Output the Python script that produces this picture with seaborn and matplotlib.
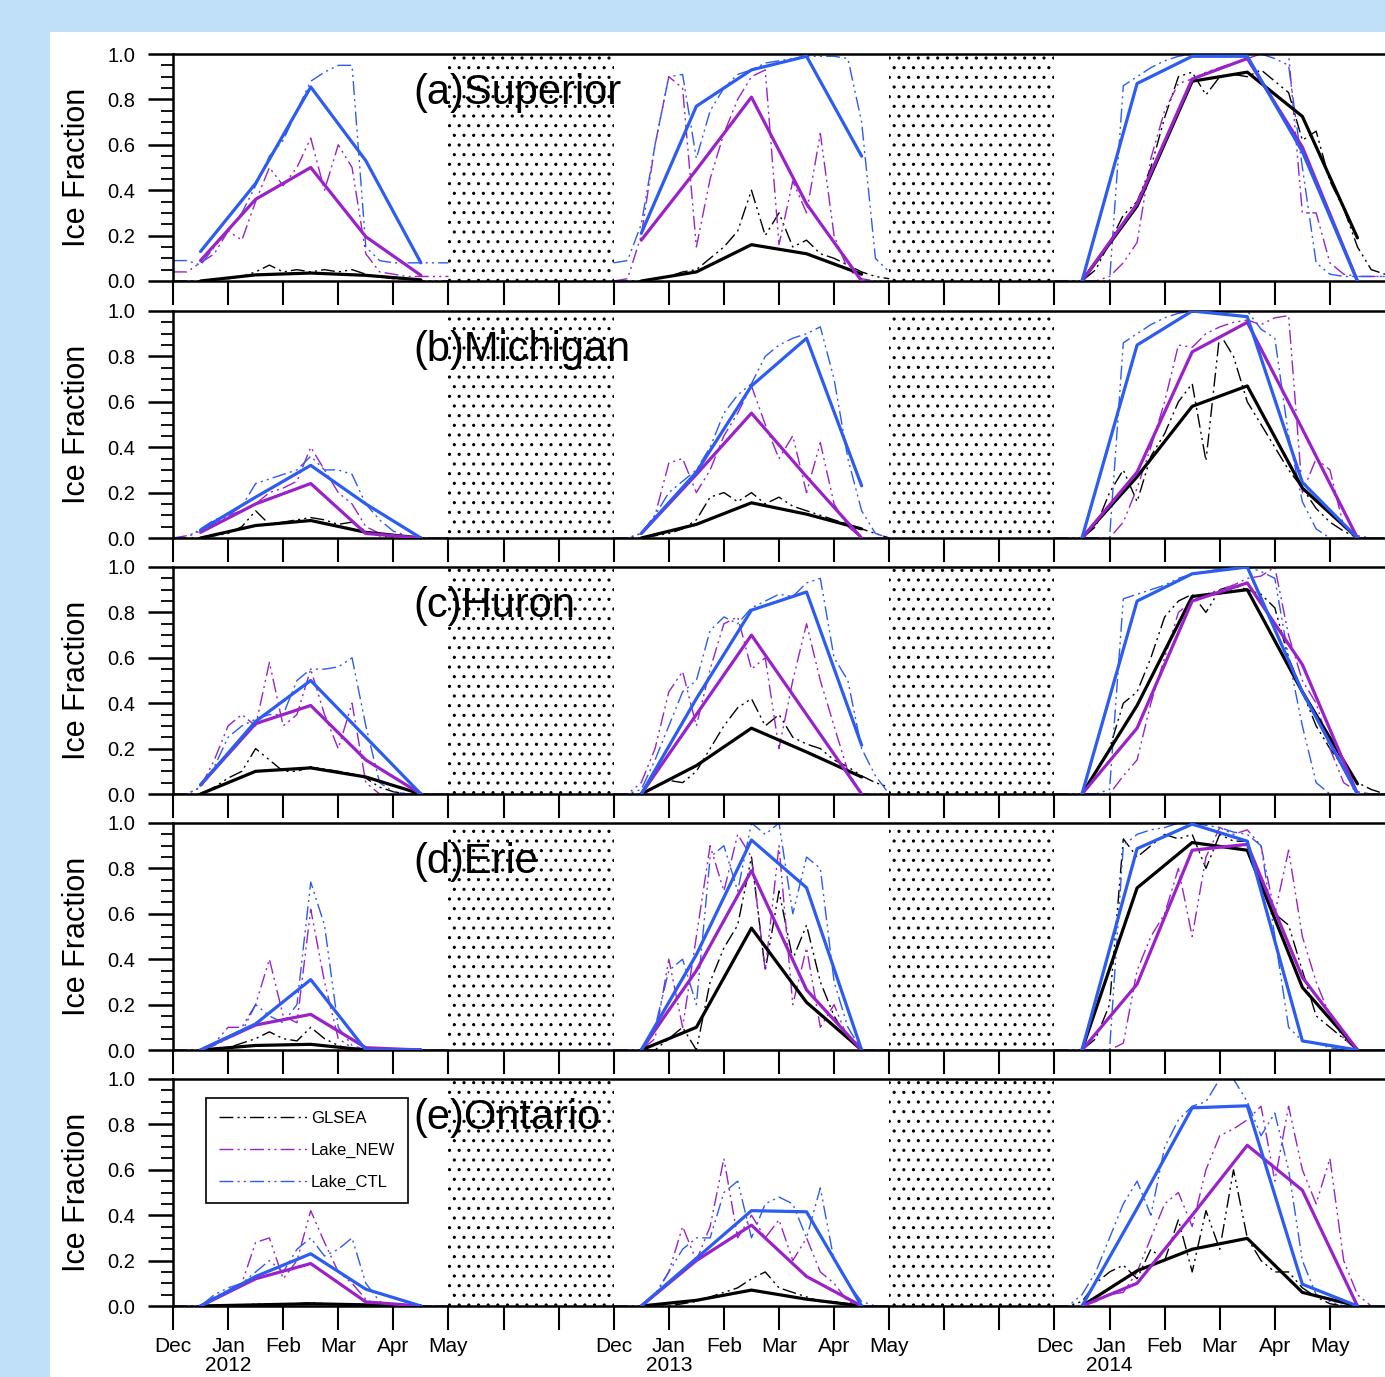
import numpy as np
import pandas as pd
import matplotlib
matplotlib.use("Agg")
import matplotlib.pyplot as plt
import seaborn as sns
from matplotlib.lines import Line2D
from matplotlib.patches import Rectangle
from matplotlib.ticker import MultipleLocator

# ---------------- data ----------------
LAKE_TITLES = ["(a)Superior", "(b)Michigan", "(c)Huron", "(d)Erie", "(e)Ontario"]
SERIES = ["GLSEA", "Lake_NEW", "Lake_CTL"]
WINTER_OFFSETS = [0, 8, 16]          # Dec-2011, Dec-2012, Dec-2013 on the compressed month axis
DAILY_STEP = 0.25                    # sampling of the daily curves (fraction of a month)
GAP_SPANS = [(5, 8), (13, 16)]       # summer gaps (dotted)
TICK_LABELS = ["Dec", "Jan\n2012", "Feb", "Mar", "Apr", "May", "", "",
               "Dec", "Jan\n2013", "Feb", "Mar", "Apr", "May", "", "",
               "Dec", "Jan\n2014", "Feb", "Mar", "Apr", "May"]

# monthly means (mid-month points)
SUP_GLSEA_M = [[0.0, 0.027, 0.035, 0.025, 0.005], [0.0, 0.04, 0.16, 0.12, 0.03], [0.0, 0.33, 0.88, 0.92, 0.725, 0.19]]
SUP_NEW_M = [[0.09, 0.36, 0.50, 0.195, 0.025], [0.18, 0.49, 0.81, 0.34, 0.0], [0.0, 0.34, 0.89, 0.98, 0.59, 0.0]]
SUP_CTL_M = [[0.13, 0.43, 0.855, 0.53, 0.08], [0.21, 0.77, 0.93, 0.99, 0.55], [0.0, 0.87, 0.99, 0.99, 0.57, 0.0]]

MIC_GLSEA_M = [[0.0, 0.055, 0.077, 0.025, 0.0], [0.0, 0.06, 0.155, 0.105, 0.04], [0.0, 0.27, 0.58, 0.67, 0.22, 0.0]]
MIC_NEW_M = [[0.025, 0.15, 0.24, 0.02, 0.0], [0.02, 0.28, 0.55, 0.27, 0.0], [0.0, 0.29, 0.82, 0.95, 0.48, 0.0]]
MIC_CTL_M = [[0.035, 0.18, 0.32, 0.15, 0.0], [0.02, 0.29, 0.67, 0.88, 0.23], [0.0, 0.85, 1.0, 0.975, 0.245, 0.0]]

HUR_GLSEA_M = [[0.0, 0.1, 0.115, 0.075, 0.0], [0.0, 0.125, 0.29, 0.185, 0.075], [0.0, 0.39, 0.87, 0.9, 0.45, 0.045]]
HUR_NEW_M = [[0.04, 0.31, 0.39, 0.15, 0.0], [0.0, 0.35, 0.70, 0.35, 0.0], [0.0, 0.29, 0.85, 0.93, 0.57, 0.0]]
HUR_CTL_M = [[0.04, 0.32, 0.50, 0.25, 0.0], [0.0, 0.42, 0.81, 0.89, 0.215], [0.0, 0.85, 0.97, 1.0, 0.45, 0.0]]

ERI_GLSEA_M = [[0.0, 0.02, 0.025, 0.0, 0.0], [0.0, 0.1, 0.537, 0.21, 0.0], [0.0, 0.714, 0.914, 0.88, 0.276, 0.0]]
ERI_NEW_M = [[0.0, 0.11, 0.157, 0.01, 0.0], [0.0, 0.35, 0.79, 0.265, 0.0], [0.0, 0.29, 0.88, 0.906, 0.32, 0.0]]
ERI_CTL_M = [[0.0, 0.115, 0.31, 0.0, 0.0], [0.0, 0.42, 0.925, 0.715, 0.0], [0.0, 0.887, 0.995, 0.92, 0.04, 0.0]]

ONT_GLSEA_M = [[0.0, 0.005, 0.01, 0.005, 0.0], [0.0, 0.025, 0.07, 0.03, 0.0], [0.0, 0.155, 0.25, 0.298, 0.06, 0.0]]
ONT_NEW_M = [[0.0, 0.12, 0.187, 0.018, 0.0], [0.0, 0.2, 0.356, 0.13, 0.0], [0.0, 0.1, 0.40, 0.708, 0.51, 0.0]]
ONT_CTL_M = [[0.0, 0.13, 0.23, 0.074, 0.0], [0.0, 0.21, 0.42, 0.415, 0.0], [0.0, 0.43, 0.873, 0.882, 0.096, 0.0]]

# daily curves (read every quarter month)
SUP_GLSEA_D = [[0, 0, 0, 0.005, 0.01, 0.02, 0.04, 0.07, 0.04, 0.05, 0.04, 0.05, 0.04, 0.05, 0.03, 0.02, 0.01, 0.01, 0, 0, 0],
               [0, 0, 0, 0.01, 0.02, 0.04, 0.05, 0.1, 0.15, 0.22, 0.4, 0.2, 0.3, 0.15, 0.18, 0.12, 0.1, 0.07, 0.04, 0.02, 0.01],
               [0, 0, 0, 0.05, 0.17, 0.29, 0.35, 0.5, 0.72, 0.9, 0.92, 0.82, 0.9, 0.91, 0.9, 0.93, 0.88, 0.83, 0.62, 0.66, 0.44, 0.32, 0.15, 0.05, 0.03]]
SUP_NEW_D = [[0.04, 0.04, 0.08, 0.12, 0.22, 0.18, 0.35, 0.5, 0.42, 0.5, 0.63, 0.4, 0.6, 0.5, 0.12, 0.04, 0.03, 0.02, 0.02, 0.02, 0.02],
             [0, 0.01, 0.2, 0.6, 0.9, 0.85, 0.15, 0.45, 0.65, 0.8, 0.9, 0.93, 0.16, 0.44, 0.3, 0.65, 0.2, 0.05, 0.01, 0, 0],
             [0, 0, 0, 0, 0.02, 0.08, 0.17, 0.54, 0.75, 0.87, 0.89, 0.92, 0.94, 0.96, 0.98, 1.0, 1.0, 1.0, 0.3, 0.3, 0.08, 0.03, 0.02, 0.02, 0.02]]
SUP_CTL_D = [[0.09, 0.09, 0.07, 0.15, 0.22, 0.3, 0.42, 0.55, 0.62, 0.75, 0.88, 0.92, 0.95, 0.95, 0.15, 0.09, 0.08, 0.08, 0.08, 0.08, 0.08],
             [0.08, 0.09, 0.25, 0.6, 0.9, 0.91, 0.54, 0.75, 0.85, 0.91, 0.93, 0.96, 0.97, 0.98, 0.99, 0.99, 0.99, 0.98, 0.7, 0.1, 0.04],
             [0, 0, 0, 0, 0, 0.86, 0.9, 0.94, 0.97, 0.99, 1.0, 1.0, 1.0, 1.0, 1.0, 1.0, 0.98, 0.95, 0.5, 0.08, 0.03, 0.02, 0.02, 0.02, 0.02]]

MIC_GLSEA_D = [[0, 0, 0, 0.01, 0.02, 0.05, 0.12, 0.06, 0.07, 0.08, 0.09, 0.08, 0.06, 0.07, 0.03, 0.01, 0, 0, 0, 0, 0],
               [0, 0, 0, 0.01, 0.02, 0.04, 0.08, 0.18, 0.2, 0.16, 0.2, 0.15, 0.18, 0.14, 0.12, 0.1, 0.08, 0.06, 0.04, 0.02, 0],
               [0, 0, 0, 0.05, 0.2, 0.3, 0.16, 0.36, 0.46, 0.6, 0.68, 0.34, 0.9, 0.8, 0.6, 0.5, 0.4, 0.3, 0.22, 0.13, 0.07, 0.03, 0, 0, 0]]
MIC_NEW_D = [[0, 0.01, 0.03, 0.06, 0.1, 0.12, 0.15, 0.2, 0.22, 0.25, 0.4, 0.3, 0.2, 0.15, 0.05, 0.02, 0, 0, 0, 0, 0],
             [0, 0, 0.02, 0.1, 0.33, 0.35, 0.2, 0.3, 0.45, 0.55, 0.67, 0.5, 0.35, 0.45, 0.2, 0.42, 0.15, 0.05, 0, 0, 0],
             [0, 0, 0, 0, 0, 0.07, 0.22, 0.4, 0.6, 0.85, 0.84, 0.9, 0.93, 0.95, 0.96, 0.94, 0.97, 0.98, 0.2, 0.35, 0.3, 0.05, 0.01, 0, 0]]
MIC_CTL_D = [[0, 0, 0.04, 0.08, 0.1, 0.14, 0.24, 0.26, 0.28, 0.3, 0.36, 0.3, 0.3, 0.28, 0.15, 0.08, 0.03, 0.01, 0, 0, 0],
             [0, 0, 0.02, 0.1, 0.2, 0.25, 0.3, 0.4, 0.55, 0.63, 0.68, 0.8, 0.85, 0.88, 0.9, 0.93, 0.7, 0.35, 0.12, 0.02, 0],
             [0, 0, 0, 0, 0, 0.86, 0.9, 0.94, 0.97, 0.99, 1.0, 1.0, 1.0, 1.0, 1.0, 0.92, 0.88, 0.45, 0.16, 0.04, 0, 0, 0, 0, 0]]

HUR_GLSEA_D = [[0, 0, 0, 0.03, 0.07, 0.1, 0.2, 0.15, 0.1, 0.1, 0.12, 0.11, 0.1, 0.09, 0.07, 0.03, 0.01, 0, 0, 0, 0],
               [0, 0, 0, 0.03, 0.06, 0.05, 0.1, 0.2, 0.3, 0.38, 0.42, 0.3, 0.35, 0.25, 0.22, 0.2, 0.15, 0.12, 0.08, 0.05, 0.03],
               [0, 0, 0, 0.1, 0.2, 0.4, 0.45, 0.6, 0.78, 0.85, 0.88, 0.8, 0.9, 0.92, 0.9, 0.88, 0.82, 0.6, 0.45, 0.3, 0.2, 0.12, 0.05, 0.02, 0]]
HUR_NEW_D = [[0, 0, 0.03, 0.15, 0.3, 0.35, 0.3, 0.58, 0.3, 0.35, 0.55, 0.35, 0.2, 0.4, 0.05, 0, 0, 0, 0, 0, 0],
             [0, 0, 0.05, 0.2, 0.45, 0.54, 0.3, 0.55, 0.75, 0.78, 0.55, 0.6, 0.2, 0.5, 0.75, 0.5, 0.3, 0.1, 0, 0, 0],
             [0, 0, 0, 0, 0, 0.08, 0.15, 0.4, 0.6, 0.8, 0.85, 0.88, 0.9, 0.92, 0.95, 0.96, 1.0, 0.7, 0.5, 0.4, 0.2, 0.05, 0.01, 0, 0]]
HUR_CTL_D = [[0, 0, 0.03, 0.12, 0.25, 0.3, 0.33, 0.35, 0.35, 0.5, 0.55, 0.55, 0.56, 0.6, 0.3, 0.05, 0.01, 0, 0, 0, 0],
             [0, 0, 0.02, 0.15, 0.3, 0.45, 0.5, 0.72, 0.78, 0.75, 0.82, 0.85, 0.88, 0.87, 0.93, 0.95, 0.6, 0.5, 0.2, 0.08, 0],
             [0, 0, 0, 0, 0.02, 0.86, 0.88, 0.9, 0.92, 0.95, 0.97, 0.98, 0.99, 1.0, 1.0, 0.98, 0.95, 0.6, 0.3, 0.05, 0, 0, 0, 0, 0]]

ERI_GLSEA_D = [[0, 0, 0, 0, 0.01, 0.03, 0.05, 0.08, 0.05, 0.04, 0.1, 0.05, 0.02, 0, 0, 0, 0, 0, 0, 0, 0],
               [0, 0, 0, 0, 0.05, 0.1, 0, 0.3, 0.45, 0.55, 0.85, 0.35, 0.7, 0.4, 0.55, 0.3, 0.15, 0.05, 0, 0, 0],
               [0, 0, 0, 0.05, 0.2, 0.93, 0.85, 0.9, 0.95, 0.93, 0.95, 0.8, 0.95, 0.92, 0.92, 0.75, 0.6, 0.55, 0.35, 0.15, 0.1, 0.05, 0, 0, 0]]
ERI_NEW_D = [[0, 0, 0, 0.03, 0.1, 0.1, 0.2, 0.4, 0.15, 0.12, 0.62, 0.3, 0.05, 0.01, 0, 0, 0, 0, 0, 0, 0],
             [0, 0, 0, 0.05, 0.4, 0.1, 0.5, 0.9, 0.7, 0.95, 0.85, 0.35, 0.9, 0.2, 0.45, 0.1, 0.2, 0.05, 0, 0, 0],
             [0, 0, 0, 0, 0, 0.03, 0.35, 0.5, 0.6, 0.8, 0.5, 0.85, 0.98, 0.95, 0.97, 0.9, 0.6, 0.88, 0.5, 0.3, 0.15, 0.05, 0, 0, 0]]
ERI_CTL_D = [[0, 0, 0, 0.02, 0.05, 0.08, 0.2, 0.15, 0.12, 0.2, 0.74, 0.55, 0.1, 0.02, 0, 0, 0, 0, 0, 0, 0],
             [0, 0, 0, 0.1, 0.35, 0.4, 0.2, 0.85, 0.9, 0.7, 1.0, 0.95, 1.0, 0.6, 0.85, 0.8, 0.3, 0.1, 0, 0, 0],
             [0, 0, 0, 0, 0, 0.9, 0.95, 0.97, 0.98, 1.0, 1.0, 0.99, 0.98, 0.96, 0.95, 0.9, 0.5, 0.1, 0.04, 0.03, 0.01, 0, 0, 0, 0]]

ONT_GLSEA_D = [[0, 0, 0, 0.003, 0.005, 0.005, 0.008, 0.01, 0.008, 0.01, 0.015, 0.01, 0.008, 0.01, 0.005, 0.003, 0, 0, 0, 0, 0],
               [0, 0, 0, 0, 0, 0.01, 0.02, 0.04, 0.06, 0.08, 0.12, 0.15, 0.08, 0.06, 0.04, 0.02, 0.02, 0.01, 0, 0, 0],
               [0, 0, 0.02, 0.1, 0.15, 0.18, 0.12, 0.25, 0.2, 0.38, 0.15, 0.42, 0.25, 0.6, 0.3, 0.2, 0.15, 0.15, 0.08, 0.04, 0.01, 0, 0, 0, 0]]
ONT_NEW_D = [[0, 0, 0, 0.04, 0.07, 0.1, 0.28, 0.3, 0.12, 0.2, 0.42, 0.28, 0.15, 0.1, 0.03, 0, 0, 0, 0, 0, 0],
             [0, 0, 0, 0.05, 0.15, 0.35, 0.2, 0.35, 0.65, 0.3, 0.4, 0.3, 0.38, 0.2, 0.3, 0.15, 0.1, 0.02, 0, 0, 0],
             [0, 0, 0, 0.02, 0.05, 0.06, 0.15, 0.3, 0.45, 0.5, 0.35, 0.6, 0.75, 0.78, 0.82, 0.88, 0.55, 0.88, 0.6, 0.45, 0.65, 0.2, 0.05, 0, 0]]
ONT_CTL_D = [[0, 0, 0, 0.05, 0.08, 0.1, 0.15, 0.2, 0.15, 0.25, 0.3, 0.22, 0.25, 0.3, 0.1, 0.02, 0, 0, 0, 0, 0],
             [0, 0, 0, 0.05, 0.15, 0.25, 0.3, 0.3, 0.5, 0.55, 0.3, 0.45, 0.48, 0.45, 0.3, 0.52, 0.2, 0.1, 0.02, 0, 0],
             [0, 0, 0.05, 0.15, 0.3, 0.45, 0.55, 0.4, 0.7, 0.82, 0.88, 0.9, 1.0, 1.0, 0.9, 0.75, 0.85, 0.6, 0.2, 0.05, 0.02, 0, 0, 0, 0]]

DAILY = {
    0: {"GLSEA": SUP_GLSEA_D, "Lake_NEW": SUP_NEW_D, "Lake_CTL": SUP_CTL_D},
    1: {"GLSEA": MIC_GLSEA_D, "Lake_NEW": MIC_NEW_D, "Lake_CTL": MIC_CTL_D},
    2: {"GLSEA": HUR_GLSEA_D, "Lake_NEW": HUR_NEW_D, "Lake_CTL": HUR_CTL_D},
    3: {"GLSEA": ERI_GLSEA_D, "Lake_NEW": ERI_NEW_D, "Lake_CTL": ERI_CTL_D},
    4: {"GLSEA": ONT_GLSEA_D, "Lake_NEW": ONT_NEW_D, "Lake_CTL": ONT_CTL_D},
}
MONTHLY = {
    0: {"GLSEA": SUP_GLSEA_M, "Lake_NEW": SUP_NEW_M, "Lake_CTL": SUP_CTL_M},
    1: {"GLSEA": MIC_GLSEA_M, "Lake_NEW": MIC_NEW_M, "Lake_CTL": MIC_CTL_M},
    2: {"GLSEA": HUR_GLSEA_M, "Lake_NEW": HUR_NEW_M, "Lake_CTL": HUR_CTL_M},
    3: {"GLSEA": ERI_GLSEA_M, "Lake_NEW": ERI_NEW_M, "Lake_CTL": ERI_CTL_M},
    4: {"GLSEA": ONT_GLSEA_M, "Lake_NEW": ONT_NEW_M, "Lake_CTL": ONT_CTL_M},
}

# ---------------- tidy table ----------------
rows = []
for lake in range(5):
    for s in SERIES:
        for w, off in enumerate(WINTER_OFFSETS):
            for i, v in enumerate(DAILY[lake][s][w]):
                rows.append((lake, s, "daily", w, off + i * DAILY_STEP, v))
            for i, v in enumerate(MONTHLY[lake][s][w]):
                rows.append((lake, s, "monthly", w, off + 0.5 + i, v))
df = pd.DataFrame(rows, columns=["lake", "series", "kind", "winter", "x", "y"])

# ---------------- style ----------------
# The figure is rendered at a low dpi so that the built-in '.' hatch gets the
# dot spacing of the original; all sizes below are given for 100 dpi and scaled.
DPI = 58
S = 100.0 / DPI

sns.set_theme(style="ticks")
plt.rcParams["font.family"] = ["Liberation Sans", "DejaVu Sans"]
plt.rcParams.update({
    "text.color": "black", "axes.labelcolor": "black",
    "xtick.color": "black", "ytick.color": "black",
    "axes.edgecolor": "black", "hatch.linewidth": 0.9 * S,
})

COLORS = {"GLSEA": "#000000", "Lake_NEW": "#9a22c8", "Lake_CTL": "#2c5cf0"}
DASH = (0, (10, 3, 1.5, 3, 1.5, 3))
BG = "#c0e0fa"

W, H = 1385, 1377
fig = plt.figure(figsize=(W / DPI, H / DPI), dpi=DPI, facecolor=BG)
fig.add_artist(Rectangle((50 / W, 0), 1 - 50 / W, 1 - 32 / H, transform=fig.transFigure,
                         facecolor="white", edgecolor="none", zorder=-10))

tops = [54, 311, 567, 823, 1079]
left_px, ax_w_px, ax_h_px = 173, 1212, 227

for lake in range(5):
    bottom = (H - tops[lake] - ax_h_px) / H
    ax = fig.add_axes([left_px / W, bottom, ax_w_px / W, ax_h_px / H])
    ax.set_facecolor("white")
    for a, b in GAP_SPANS:
        ax.axvspan(a, b, facecolor="none", edgecolor="black", hatch=".", linewidth=0, zorder=0.5)

    sub = df[df["lake"] == lake]
    for s in SERIES:
        d = sub[(sub["series"] == s) & (sub["kind"] == "daily")]
        sns.lineplot(data=d, x="x", y="y", units="winter", estimator=None, sort=False,
                     color=COLORS[s], lw=1.0 * S, linestyle=DASH, ax=ax, legend=False, zorder=2)
    for s in SERIES:
        m = sub[(sub["series"] == s) & (sub["kind"] == "monthly")]
        sns.lineplot(data=m, x="x", y="y", units="winter", estimator=None, sort=False,
                     color=COLORS[s], lw=2.3 * S, ax=ax, legend=False, zorder=3)

    ax.set_xlim(0, 22)
    ax.set_ylim(0, 1)
    ax.set_xticks(range(len(TICK_LABELS)))
    ax.set_yticks(np.arange(0, 1.01, 0.2))
    ax.set_yticklabels([f"{v:.1f}" for v in np.arange(0, 1.01, 0.2)])
    ax.yaxis.set_minor_locator(MultipleLocator(0.05))
    ax.tick_params(axis="y", which="major", direction="out", length=18 * S, width=1.8 * S,
                   labelsize=14.5 * S, pad=9 * S, left=True, right=False)
    ax.tick_params(axis="y", which="minor", direction="out", length=8.5 * S, width=1.3 * S,
                   left=True, right=False)
    ax.tick_params(axis="x", which="major", direction="out", length=17 * S, width=1.5 * S,
                   bottom=True, top=False, labelsize=15 * S, pad=5.5 * S)
    if lake == 4:
        ax.set_xticklabels(TICK_LABELS, linespacing=1.0)
    else:
        ax.set_xticklabels([])
    for sp in ["left", "top", "bottom"]:
        ax.spines[sp].set_linewidth(1.8 * S)
        ax.spines[sp].set_color("black")
    ax.spines["right"].set_visible(False)
    ax.set_xlabel("")
    ax.set_ylabel("Ice Fraction", fontsize=22 * S)
    ax.yaxis.set_label_coords(-0.067, 0.5)
    ax.text(0.198, 0.826, LAKE_TITLES[lake], transform=ax.transAxes, fontsize=30 * S,
            ha="left", va="center", zorder=4)

    if lake == 4:
        handles = [Line2D([], [], color=COLORS[s], lw=1.0 * S, linestyle=DASH) for s in SERIES]
        leg = ax.legend(handles, SERIES, loc="upper left", bbox_to_anchor=(0.027, 0.917),
                        borderaxespad=0, fontsize=12 * S, frameon=True, fancybox=False,
                        edgecolor="black", framealpha=1, handlelength=5.4, handletextpad=0.1,
                        labelspacing=1.0, borderpad=0.8)
        leg.get_frame().set_linewidth(1.2 * S)

fig.savefig("out.png", dpi=DPI, facecolor=BG)
